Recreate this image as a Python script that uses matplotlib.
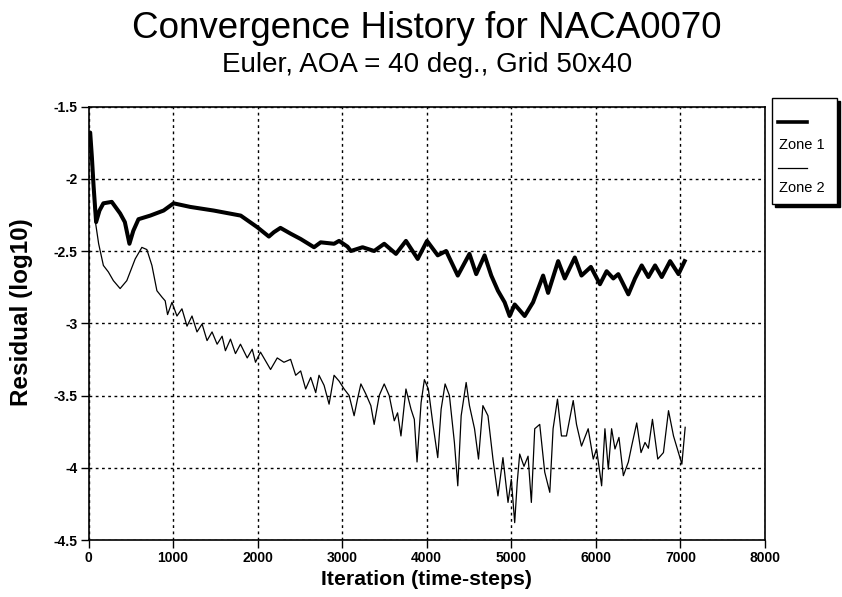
import matplotlib

matplotlib.use("Agg")
import matplotlib.pyplot as plt
from matplotlib.patches import Rectangle
from matplotlib.lines import Line2D

plt.rcParams["font.family"] = ["Liberation Sans", "DejaVu Sans"]

title = "Convergence History for NACA0070"
subtitle = "Euler, AOA = 40 deg., Grid 50x40"
x_label = "Iteration (time-steps)"
y_label = "Residual (log10)"
series_names = ["Zone 1", "Zone 2"]

x_ticks = [0, 1000, 2000, 3000, 4000, 5000, 6000, 7000, 8000]
x_tick_labels = ["0", "1000", "2000", "3000", "4000", "5000", "6000", "7000", "8000"]
y_ticks = [-4.5, -4.0, -3.5, -3.0, -2.5, -2.0, -1.5]
y_tick_labels = ["-4.5", "-4", "-3.5", "-3", "-2.5", "-2", "-1.5"]

# zone 1 (thick line)
zone1_iter = [0, 20, 40, 60, 90, 130, 176, 275, 374, 430, 484, 530, 591, 730,
              888, 1006, 1204, 1480, 1800, 1995, 2133, 2192, 2270, 2390, 2509,
              2667, 2746, 2904, 2963, 3063, 3102, 3241, 3378, 3497, 3636, 3754,
              3893, 4003, 4130, 4229, 4367, 4505, 4585, 4684, 4763, 4842, 4921,
              4980, 5040, 5158, 5257, 5376, 5435, 5554, 5632, 5751, 5830, 5941,
              6048, 6127, 6206, 6265, 6384, 6463, 6542, 6621, 6700, 6779, 6878,
              6977, 7050]
zone1_res = [-1.70, -1.68, -1.85, -2.05, -2.30, -2.22, -2.17, -2.16, -2.24, -2.30,
             -2.45, -2.36, -2.28, -2.255, -2.22, -2.17, -2.195, -2.22, -2.255,
             -2.335, -2.40, -2.37, -2.34, -2.38, -2.417, -2.474, -2.44, -2.45,
             -2.43, -2.47, -2.50, -2.474, -2.50, -2.45, -2.52, -2.43, -2.555,
             -2.43, -2.53, -2.50, -2.67, -2.52, -2.66, -2.53, -2.67, -2.775,
             -2.855, -2.95, -2.87, -2.95, -2.855, -2.67, -2.79, -2.57, -2.69,
             -2.545, -2.67, -2.61, -2.73, -2.64, -2.69, -2.66, -2.80, -2.69,
             -2.60, -2.68, -2.60, -2.68, -2.57, -2.66, -2.57]

# zone 2 (thin line)
zone2_iter = [0, 20, 40, 60, 77, 120, 176, 235, 294, 374, 453, 552, 631, 690, 750,
              809, 870, 907, 935, 987, 1046, 1105, 1165, 1224, 1283, 1343, 1402,
              1461, 1521, 1580, 1619, 1679, 1738, 1797, 1877, 1936, 1975, 2034,
              2094, 2153, 2232, 2311, 2390, 2450, 2509, 2568, 2628, 2687, 2726,
              2786, 2845, 2904, 2963, 3023, 3082, 3141, 3181, 3221, 3280, 3339,
              3378, 3438, 3497, 3556, 3616, 3655, 3695, 3754, 3814, 3853, 3885,
              3933, 3972, 4019, 4071, 4130, 4170, 4217, 4268, 4327, 4367, 4407,
              4466, 4505, 4565, 4612, 4664, 4724, 4783, 4842, 4901, 4961, 5000,
              5040, 5070, 5099, 5150, 5198, 5237, 5277, 5336, 5395, 5455, 5494,
              5546, 5593, 5652, 5732, 5771, 5830, 5909, 5969, 6008, 6068, 6107,
              6147, 6186, 6226, 6273, 6325, 6384, 6423, 6483, 6534, 6581, 6621,
              6669, 6732, 6799, 6859, 6918, 6977, 7017, 7056]
zone2_res = [-1.70, -1.70, -1.90, -2.10, -2.28, -2.45, -2.60, -2.645, -2.705, -2.76,
             -2.705, -2.555, -2.475, -2.49, -2.60, -2.775, -2.82, -2.845, -2.94,
             -2.855, -2.95, -2.90, -3.02, -2.95, -3.06, -3.005, -3.12, -3.06,
             -3.145, -3.09, -3.19, -3.11, -3.21, -3.145, -3.24, -3.18, -3.27,
             -3.20, -3.26, -3.32, -3.24, -3.27, -3.25, -3.36, -3.33, -3.455,
             -3.375, -3.48, -3.36, -3.43, -3.56, -3.36, -3.40, -3.455, -3.50,
             -3.64, -3.525, -3.42, -3.49, -3.57, -3.70, -3.50, -3.42, -3.50,
             -3.675, -3.62, -3.78, -3.455, -3.595, -3.665, -3.96, -3.55, -3.39,
             -3.455, -3.69, -3.93, -3.595, -3.42, -3.50, -3.825, -4.125, -3.64,
             -3.41, -3.57, -3.73, -3.94, -3.57, -3.64, -3.94, -4.195, -3.93,
             -4.24, -4.08, -4.38, -4.10, -3.905, -3.99, -3.92, -4.24, -3.73,
             -3.70, -4.03, -4.17, -3.73, -3.525, -3.78, -3.78, -3.535, -3.70,
             -3.85, -3.73, -3.94, -3.87, -4.125, -3.73, -4.01, -3.73, -3.87,
             -3.79, -4.055, -3.96, -3.85, -3.69, -3.895, -3.825, -3.865, -3.665,
             -3.94, -3.895, -3.605, -3.78, -3.895, -3.975, -3.72]

W, H = 842, 597
fig = plt.figure(figsize=(W / 100, H / 100), dpi=100)
ax = fig.add_axes([88.5 / W, 1 - 540 / H, (765 - 88.5) / W, (540 - 106.5) / H])

ax.plot(zone1_iter, zone1_res, color="black", lw=2.9, solid_joinstyle="round")
ax.plot(zone2_iter, zone2_res, color="black", lw=0.9)

ax.set_xlim(0, 8000)
ax.set_ylim(-4.5, -1.5)
ax.set_xticks(x_ticks)
ax.set_xticklabels(x_tick_labels)
ax.set_yticks(y_ticks)
ax.set_yticklabels(y_tick_labels)
ax.tick_params(direction="out", length=6, width=1, labelsize=10, pad=2)
for lab in ax.get_xticklabels() + ax.get_yticklabels():
    lab.set_fontweight("bold")
ax.grid(True, color="black", linestyle=(0, (2, 2.5)), linewidth=1)
for sp in ax.spines.values():
    sp.set_linewidth(1.2)

cx = (88.5 + 765) / 2 / W
fig.text(cx, 1 - 38 / H, title, ha="center", va="baseline", fontsize=26.5)
fig.text(cx, 1 - 72 / H, subtitle, ha="center", va="baseline", fontsize=20)
fig.text(cx, 1 - 585 / H, x_label, ha="center", va="baseline", fontsize=15.3,
         fontweight="bold")
fig.text(22 / W, 1 - 312 / H, y_label, ha="center", va="center", rotation=90,
         fontsize=17.5, fontweight="bold")

# legend box drawn by hand, with the drop shadow
lx0, lx1, ly0, ly1 = 772, 837, 98, 204
fig.patches.append(Rectangle(((lx0 + 3) / W, 1 - (ly1 + 3) / H),
                             (lx1 - lx0) / W, (ly1 - ly0) / H,
                             transform=fig.transFigure, facecolor="black",
                             edgecolor="black", zorder=5))
fig.patches.append(Rectangle((lx0 / W, 1 - ly1 / H), (lx1 - lx0) / W,
                             (ly1 - ly0) / H, transform=fig.transFigure,
                             facecolor="white", edgecolor="black", lw=1,
                             zorder=6))
for name, ly, ty, lw in [(series_names[0], 122, 145, 2.6),
                         (series_names[1], 168, 188, 0.9)]:
    fig.lines.append(Line2D([778 / W, 807 / W], [1 - ly / H, 1 - ly / H],
                            transform=fig.transFigure, color="black", lw=lw,
                            zorder=7))
    fig.text(779 / W, 1 - ty / H, name, ha="left", va="center", fontsize=10.5,
             zorder=8)

fig.savefig("out.png", dpi=100)
